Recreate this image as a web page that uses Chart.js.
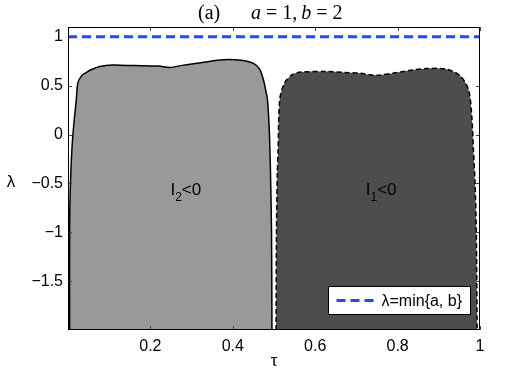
<!DOCTYPE html>
<html lang="en">
<head>
<meta charset="UTF-8">
<title>(a) a = 1, b = 2</title>
<script src="https://cdn.jsdelivr.net/npm/chart.js"></script>
<style>
  body { margin: 0; background: #fff; }
  canvas { display: block; }
</style>
</head>
<body>
<canvas id="chart" width="531" height="372"></canvas>
<script>
// region I2<0 : upper outline, tau -> lambda
const i2Tau = [0.004, 0.004, 0.006, 0.0095, 0.014, 0.02, 0.024, 0.033, 0.044, 0.06, 0.077, 0.108, 0.16, 0.22, 0.247, 0.28, 0.33, 0.376, 0.42, 0.449, 0.465, 0.474, 0.48, 0.484, 0.488, 0.491, 0.494, 0.495];
const i2Lam = [-2, -0.9, -0.5, -0.15, 0.1, 0.35, 0.53, 0.6, 0.634, 0.67, 0.696, 0.71, 0.705, 0.7, 0.685, 0.71, 0.74, 0.765, 0.76, 0.73, 0.67, 0.565, 0.45, 0.36, 0.1, -0.3, -1, -2];

// region I1<0 : upper outline
const i1Tau = [0.505, 0.506, 0.508, 0.51, 0.514, 0.526, 0.546, 0.571, 0.628, 0.67, 0.709, 0.749, 0.806, 0.84, 0.871, 0.919, 0.952, 0.972, 0.98, 0.984, 0.988, 0.991, 0.993];
const i1Lam = [-2, -1, -0.4, -0.15, 0.36, 0.53, 0.617, 0.64, 0.644, 0.635, 0.627, 0.606, 0.64, 0.662, 0.675, 0.668, 0.6, 0.46, 0.19, -0.15, -0.5, -1, -2];

// lambda = min{a, b}
const minAB = 1;

const xTicks = [0.2, 0.4, 0.6, 0.8, 1];
const yTicks = [-1.5, -1, -0.5, 0, 0.5, 1];

// region labels
const labelSub = ['2', '1'];
const labelTau = [0.286, 0.76];
const labelLam = [-0.56, -0.56];

const SANS = '"Liberation Sans", Arial, sans-serif';
const SERIF = '"Liberation Serif", "DejaVu Serif", serif';

const pts = (xs, ys) => xs.map((v, i) => ({ x: v, y: ys[i] }));
const fmt = v => (v < 0 ? '\u2212' + Math.abs(v) : String(v));

const decor = {
  id: 'decor',
  afterDraw(c) {
    const { ctx, chartArea: a, scales: { x, y } } = c;
    ctx.save();

    // inward tick marks on all sides
    ctx.strokeStyle = '#444';
    ctx.lineWidth = 1;
    ctx.beginPath();
    xTicks.forEach(v => {
      const px = Math.round(x.getPixelForValue(v)) + 0.5;
      ctx.moveTo(px, a.bottom); ctx.lineTo(px, a.bottom - 4);
      ctx.moveTo(px, a.top); ctx.lineTo(px, a.top + 4);
    });
    yTicks.forEach(v => {
      const py = Math.round(y.getPixelForValue(v)) + 0.5;
      ctx.moveTo(a.left, py); ctx.lineTo(a.left + 4, py);
      ctx.moveTo(a.right, py); ctx.lineTo(a.right - 4, py);
    });
    ctx.stroke();

    // axes box
    ctx.strokeStyle = '#000';
    ctx.strokeRect(Math.round(a.left) + 0.5, Math.round(a.top) + 0.5,
                   Math.round(a.width) - 1, Math.round(a.height) - 1);

    // region labels I_k<0
    ctx.fillStyle = '#000';
    ctx.textBaseline = 'alphabetic';
    ctx.textAlign = 'left';
    labelSub.forEach((s, i) => {
      const big = '17px ' + SANS, small = '12px ' + SANS;
      ctx.font = big;
      const wI = ctx.measureText('I').width, wR = ctx.measureText('<0').width;
      ctx.font = small;
      const wS = ctx.measureText(s).width;
      const cx = x.getPixelForValue(labelTau[i]);
      const cy = y.getPixelForValue(labelLam[i]);
      let left = cx - (wI + wS + wR) / 2;
      const base = cy + 6;
      ctx.font = big; ctx.fillText('I', left, base);
      ctx.font = small; ctx.fillText(s, left + wI, base + 6);
      ctx.font = big; ctx.fillText('<0', left + wI + wS, base);
    });

    // legend
    const lx = 328.5, ly = 286.5, lw = 142, lh = 28;
    ctx.fillStyle = '#fff';
    ctx.fillRect(lx, ly, lw, lh);
    ctx.strokeStyle = '#000';
    ctx.lineWidth = 1;
    ctx.strokeRect(lx, ly, lw, lh);
    ctx.strokeStyle = '#2a44ff';
    ctx.lineWidth = 3;
    ctx.setLineDash([9, 5]);
    ctx.beginPath();
    ctx.moveTo(lx + 8, ly + lh / 2);
    ctx.lineTo(lx + 50, ly + lh / 2);
    ctx.stroke();
    ctx.setLineDash([]);
    ctx.fillStyle = '#000';
    ctx.font = '16px ' + SANS;
    ctx.textBaseline = 'middle';
    ctx.fillText('\u03bb=min{a, b}', lx + 53, ly + lh / 2 + 1);

    // axis titles
    ctx.textAlign = 'center';
    ctx.font = '17px ' + SANS;
    ctx.fillText('\u03c4', (a.left + a.right) / 2, 361);
    ctx.fillText('\u03bb', 11, (a.top + a.bottom) / 2 + 4);

    // title: (a)   a = 1, b = 2
    ctx.textAlign = 'left';
    ctx.textBaseline = 'alphabetic';
    ctx.font = '20px ' + SERIF;
    ctx.fillText('(a)', 198, 19);
    const parts = [['a', true, 5], ['=', false, 5], ['1', false, 0], [',', false, 4], ['b', true, 5], ['=', false, 5], ['2', false, 0]];
    let px = 251;
    parts.forEach(([t, it, gap]) => {
      ctx.font = (it ? 'italic ' : '') + '20px ' + SERIF;
      ctx.fillText(t, px, 19);
      px += ctx.measureText(t).width + gap;
    });

    ctx.restore();
  }
};

new Chart(document.getElementById('chart'), {
  type: 'line',
  data: {
    datasets: [
      {
        label: '\u03bb=min{a, b}',
        data: pts([0, 1], [minAB, minAB]),
        borderColor: '#2a44ff',
        borderWidth: 3,
        borderDash: [9, 5],
        pointRadius: 0,
        fill: false
      },
      {
        label: 'I2<0',
        data: pts(i2Tau, i2Lam),
        borderColor: '#000',
        borderWidth: 1.5,
        backgroundColor: '#999999',
        fill: 'start',
        pointRadius: 0,
        tension: 0.3
      },
      {
        label: 'I1<0',
        data: pts(i1Tau, i1Lam),
        borderColor: '#000',
        borderWidth: 1.5,
        borderDash: [5, 3],
        backgroundColor: '#4d4d4d',
        fill: 'start',
        pointRadius: 0,
        tension: 0.3
      }
    ]
  },
  options: {
    responsive: false,
    animation: false,
    devicePixelRatio: 1,
    layout: { padding: { top: 27, right: 51, bottom: 0, left: 0 } },
    plugins: {
      legend: { display: false },
      title: { display: false },
      tooltip: { enabled: false }
    },
    scales: {
      x: {
        type: 'linear',
        min: 0,
        max: 1,
        afterFit: s => { s.height = 42; },
        afterBuildTicks: s => { s.ticks = xTicks.map(v => ({ value: v })); },
        grid: { display: false, drawTicks: false },
        border: { display: false },
        ticks: {
          padding: 7,
          color: '#000',
          font: { family: SANS, size: 16 },
          maxRotation: 0,
          callback: v => fmt(v)
        }
      },
      y: {
        type: 'linear',
        min: -2,
        max: 1.1,
        afterFit: s => { s.width = 68; },
        afterBuildTicks: s => { s.ticks = yTicks.map(v => ({ value: v })); },
        grid: { display: false, drawTicks: false },
        border: { display: false },
        ticks: {
          padding: 5,
          color: '#000',
          font: { family: SANS, size: 16 },
          callback: v => fmt(v)
        }
      }
    }
  },
  plugins: [decor]
});
</script>
</body>
</html>
